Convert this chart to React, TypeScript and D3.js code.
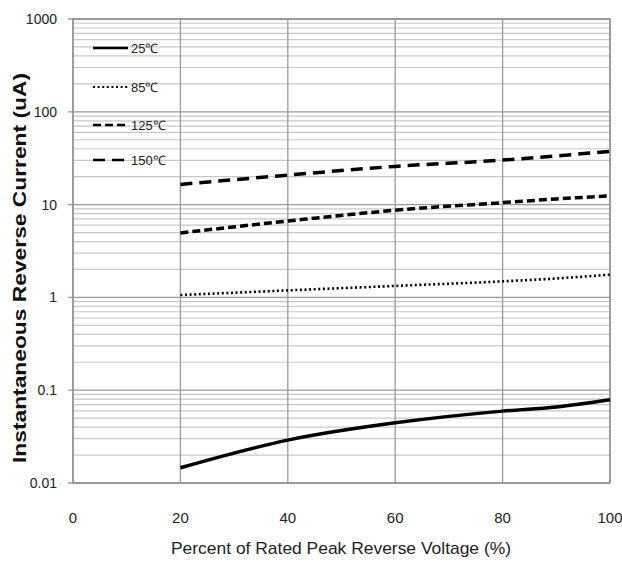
import * as React from 'react';
import * as d3 from 'd3';

const percents = [20, 40, 60, 80, 90, 100];
const cur25 = [0.0146, 0.029, 0.0445, 0.0595, 0.066, 0.079];
const cur85 = [1.06, 1.19, 1.33, 1.49, 1.6, 1.76];
const cur125 = [4.95, 6.65, 8.7, 10.5, 11.5, 12.4];
const cur150 = [16.5, 20.8, 25.8, 30.2, 33.5, 37.5];
const seriesNames = ['25℃', '85℃', '125℃', '150℃'];
const xTicks = [0, 20, 40, 60, 80, 100];
const yTicks = [0.01, 0.1, 1, 10, 100, 1000];

const styles = [
  { dash: 'none', width: 3.5 },
  { dash: '2,2.6', width: 2.6 },
  { dash: '8,4', width: 3.5 },
  { dash: '12,7', width: 3.5 },
];

export default function App() {
  const left = 73, right = 610, top = 19, bottom = 483;
  const x = d3.scaleLinear().domain([0, 100]).range([left, right]);
  const y = d3.scaleLog().domain([0.01, 1000]).range([bottom, top]);
  const all = [cur25, cur85, cur125, cur150];
  const line = d3
    .line<number>()
    .x((_, i) => x(percents[i]))
    .y((d) => y(d))
    .curve(d3.curveMonotoneX);

  const minor: number[] = [];
  for (let e = -2; e < 3; e++) {
    for (let m = 2; m < 10; m++) minor.push(m * Math.pow(10, e));
  }
  const font = "'Liberation Sans Narrow', 'Liberation Sans', Arial, sans-serif";

  return (
    <svg width={622} height={563} style={{ position: 'absolute', left: 0, top: 0 }}>
      <rect width={622} height={563} fill="#fff" />
      {minor.map((v) => (
        <line key={'m' + v} x1={left} x2={right} y1={y(v)} y2={y(v)} stroke="#c8c8c8" strokeWidth={1.2} />
      ))}
      {yTicks.map((v) => (
        <line key={'y' + v} x1={left - 5} x2={right} y1={y(v)} y2={y(v)} stroke="#9a9a9a" strokeWidth={1.3} />
      ))}
      {xTicks.map((v) => (
        <line key={'x' + v} x1={x(v)} x2={x(v)} y1={top} y2={bottom} stroke="#9a9a9a" strokeWidth={1.3} />
      ))}
      <rect x={left} y={top} width={right - left} height={bottom - top} fill="none" stroke="#8c8c8c" strokeWidth={1.3} />
      {yTicks.map((v) => (
        <text key={'yl' + v} x={57} y={y(v) + 5} textAnchor="end" fontFamily={font} fontSize={14} fill="#222">
          {v >= 1 ? String(v) : d3.format('.2~f')(v)}
        </text>
      ))}
      {xTicks.map((v) => (
        <text key={'xl' + v} x={x(v)} y={523} textAnchor="middle" fontFamily={font} fontSize={15} fill="#222">
          {v}
        </text>
      ))}
      <text
        x={341}
        y={554}
        textAnchor="middle"
        fontFamily={font}
        fontSize={17}
        fill="#222"
        textLength={340}
        lengthAdjust="spacingAndGlyphs"
      >
        Percent of  Rated Peak Reverse Voltage (%)
      </text>
      <text
        transform={`translate(26,${(top + bottom) / 2 + 17}) rotate(-90)`}
        textAnchor="middle"
        fontFamily="'Liberation Sans', Arial, sans-serif"
        fontWeight="bold"
        fontSize={18}
        fill="#111"
        textLength={390}
        lengthAdjust="spacingAndGlyphs"
      >
        Instantaneous Reverse Current (uA)
      </text>
      {all.map((s, i) => (
        <path
          key={'s' + i}
          d={line(s) || ''}
          fill="none"
          stroke="#000"
          strokeWidth={styles[i].width}
          strokeDasharray={styles[i].dash}
        />
      ))}
      {seriesNames.map((n, i) => {
        const ly = [48, 87, 125, 160][i];
        return (
          <g key={'lg' + n}>
            <line x1={93} x2={128} y1={ly} y2={ly} stroke="#000" strokeWidth={styles[i].width - 0.8} strokeDasharray={styles[i].dash} />
            <text x={131} y={ly + 5} fontFamily={font} fontSize={13} fill="#222">
              {n}
            </text>
          </g>
        );
      })}
    </svg>
  );
}
